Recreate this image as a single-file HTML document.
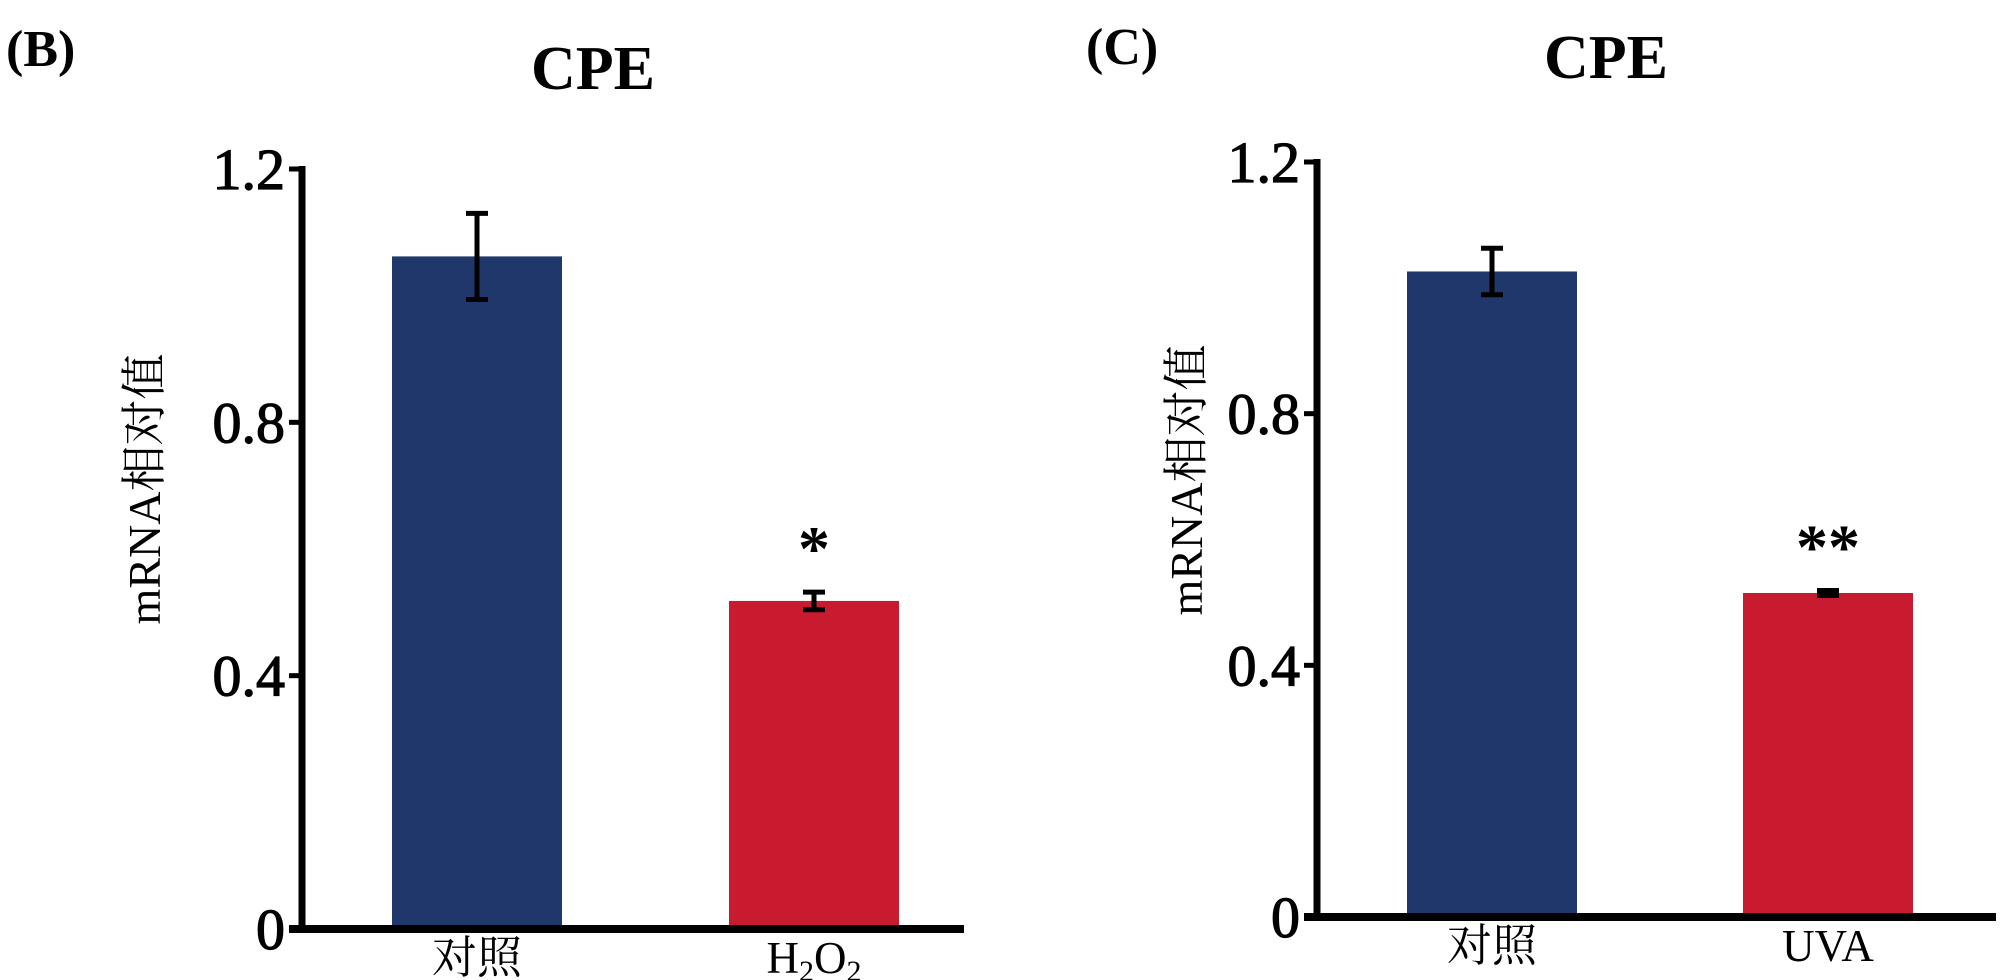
<!DOCTYPE html>
<html><head><meta charset="utf-8">
<style>
html,body{margin:0;padding:0;background:#fff;}
svg{display:block;}
.tick{font-family:"Liberation Serif",serif;font-size:58px;fill:#000;stroke:#000;stroke-width:1.2px;}
.title{font-family:"Liberation Serif",serif;font-size:62px;font-weight:bold;fill:#000;}
.panel{font-family:"Liberation Serif",serif;font-size:52px;font-weight:bold;fill:#000;}
.ytitle{font-family:"Liberation Serif","Noto Serif CJK SC",serif;font-size:46px;fill:#000;}
.xlab{font-family:"Liberation Serif","Noto Serif CJK SC",serif;font-size:45px;fill:#000;}
.star{font-family:"Liberation Serif",serif;font-size:64px;font-weight:bold;fill:#000;}
</style></head>
<body>
<svg id="chart" width="2000" height="980" viewBox="0 0 2000 980" xmlns="http://www.w3.org/2000/svg"></svg>
<script>
const categoriesB = ["对照", "H2O2"];
const valuesB = [1.062, 0.518];
const errorsB = [0.068, 0.014];
const starsB = ["", "*"];
const categoriesC = ["对照", "UVA"];
const valuesC = [1.026, 0.515];
const errorsC = [0.037, 0.004];
const starsC = ["", "**"];
const tickValues = [0, 0.4, 0.8, 1.2];
const tickLabels = ["0", "0.4", "0.8", "1.2"];
const colors = ["#1f376b", "#c91b30"];

const svg = document.getElementById('chart');
const NS = "http://www.w3.org/2000/svg";
function mk(tag, attrs, parent){
  const e = document.createElementNS(NS, tag);
  for (const k in attrs) e.setAttribute(k, attrs[k]);
  (parent||svg).appendChild(e);
  return e;
}

function panel(cfg){
  const g = mk('g', {});
  
  
  const y = v => cfg.y0 - v * (cfg.y0 - cfg.y12) / 1.2;
  const xc = i => cfg.barX[i] + cfg.barW / 2;

  const pl = mk('text', {x: cfg.panelX, y: cfg.panelY, class: 'panel'}, g);
  pl.textContent = cfg.panelLabel;
  
  

  const t = mk('text', {x: cfg.titleX, y: cfg.titleY, class: 'title', 'text-anchor': 'middle'}, g);
  t.textContent = 'CPE';
  
  

  cfg.values.forEach((v, i) => {
    const r = mk('rect', {x: cfg.barX[i], y: y(v), width: cfg.barW, height: cfg.y0 - y(v), fill: colors[i]}, g);
    
    
    const e = cfg.errors[i];
    const eg = mk('g', {stroke: '#000', 'stroke-width': 5}, g);
    
    
    mk('line', {x1: xc(i), x2: xc(i), y1: y(v + e), y2: y(v - e)}, eg);
    mk('line', {x1: xc(i) - 11, x2: xc(i) + 11, y1: y(v + e), y2: y(v + e)}, eg);
    mk('line', {x1: xc(i) - 11, x2: xc(i) + 11, y1: y(v - e), y2: y(v - e)}, eg);
    if (cfg.stars[i]) {
      const s = mk('text', {x: xc(i), y: y(v + e) - 22, class: 'star', 'text-anchor': 'middle'}, g);
      s.textContent = cfg.stars[i];
      
      
    }
    const lab = mk('text', {x: xc(i), y: cfg.y0 + 44, class: 'xlab', 'text-anchor': 'middle'}, g);
    
    
    const c = cfg.cats[i];
    if (c === 'H2O2') {
      lab.innerHTML = 'H<tspan dy="8" font-size="30">2</tspan><tspan dy="-8">O</tspan><tspan dy="8" font-size="30">2</tspan>';
    } else lab.textContent = c;
  });

  const ya = mk('line', {x1: cfg.axisX, x2: cfg.axisX, y1: cfg.y12 - 3, y2: cfg.y0 + 4, stroke: '#000', 'stroke-width': 7}, g);
  
  
  const xa = mk('line', {x1: cfg.axisX - 13, x2: cfg.xEnd, y1: cfg.y0, y2: cfg.y0, stroke: '#000', 'stroke-width': 8}, g);
  
  
  tickValues.forEach((v, i) => {
    mk('line', {x1: cfg.axisX - 13, x2: cfg.axisX, y1: y(v), y2: y(v), stroke: '#000', 'stroke-width': 5}, g);
    const tl = mk('text', {x: cfg.axisX - 17, y: y(v) + 20, class: 'tick', 'text-anchor': 'end'}, g);
    tl.textContent = tickLabels[i];
    
    
  });
  const yt = mk('text', {x: 0, y: 0, class: 'ytitle', 'text-anchor': 'middle', transform: `translate(${cfg.ytX},${cfg.ytY}) rotate(-90)`}, g);
  yt.textContent = 'mRNA相对值';
  
  
}

panel({name: 'panel-b', panelLabel: '(B)', panelX: 6, panelY: 66, titleX: 593, titleY: 89,
  axisX: 302, y0: 929, y12: 169, xEnd: 964, barX: [392, 729], barW: 170,
  values: valuesB, errors: errorsB, stars: starsB, cats: categoriesB, ytX: 160, ytY: 489});
panel({name: 'panel-c', panelLabel: '(C)', panelX: 1086, panelY: 64, titleX: 1606, titleY: 78,
  axisX: 1317, y0: 917, y12: 162, xEnd: 1996, barX: [1407, 1743], barW: 170,
  values: valuesC, errors: errorsC, stars: starsC, cats: categoriesC, ytX: 1202, ytY: 480});
</script>
</body></html>
